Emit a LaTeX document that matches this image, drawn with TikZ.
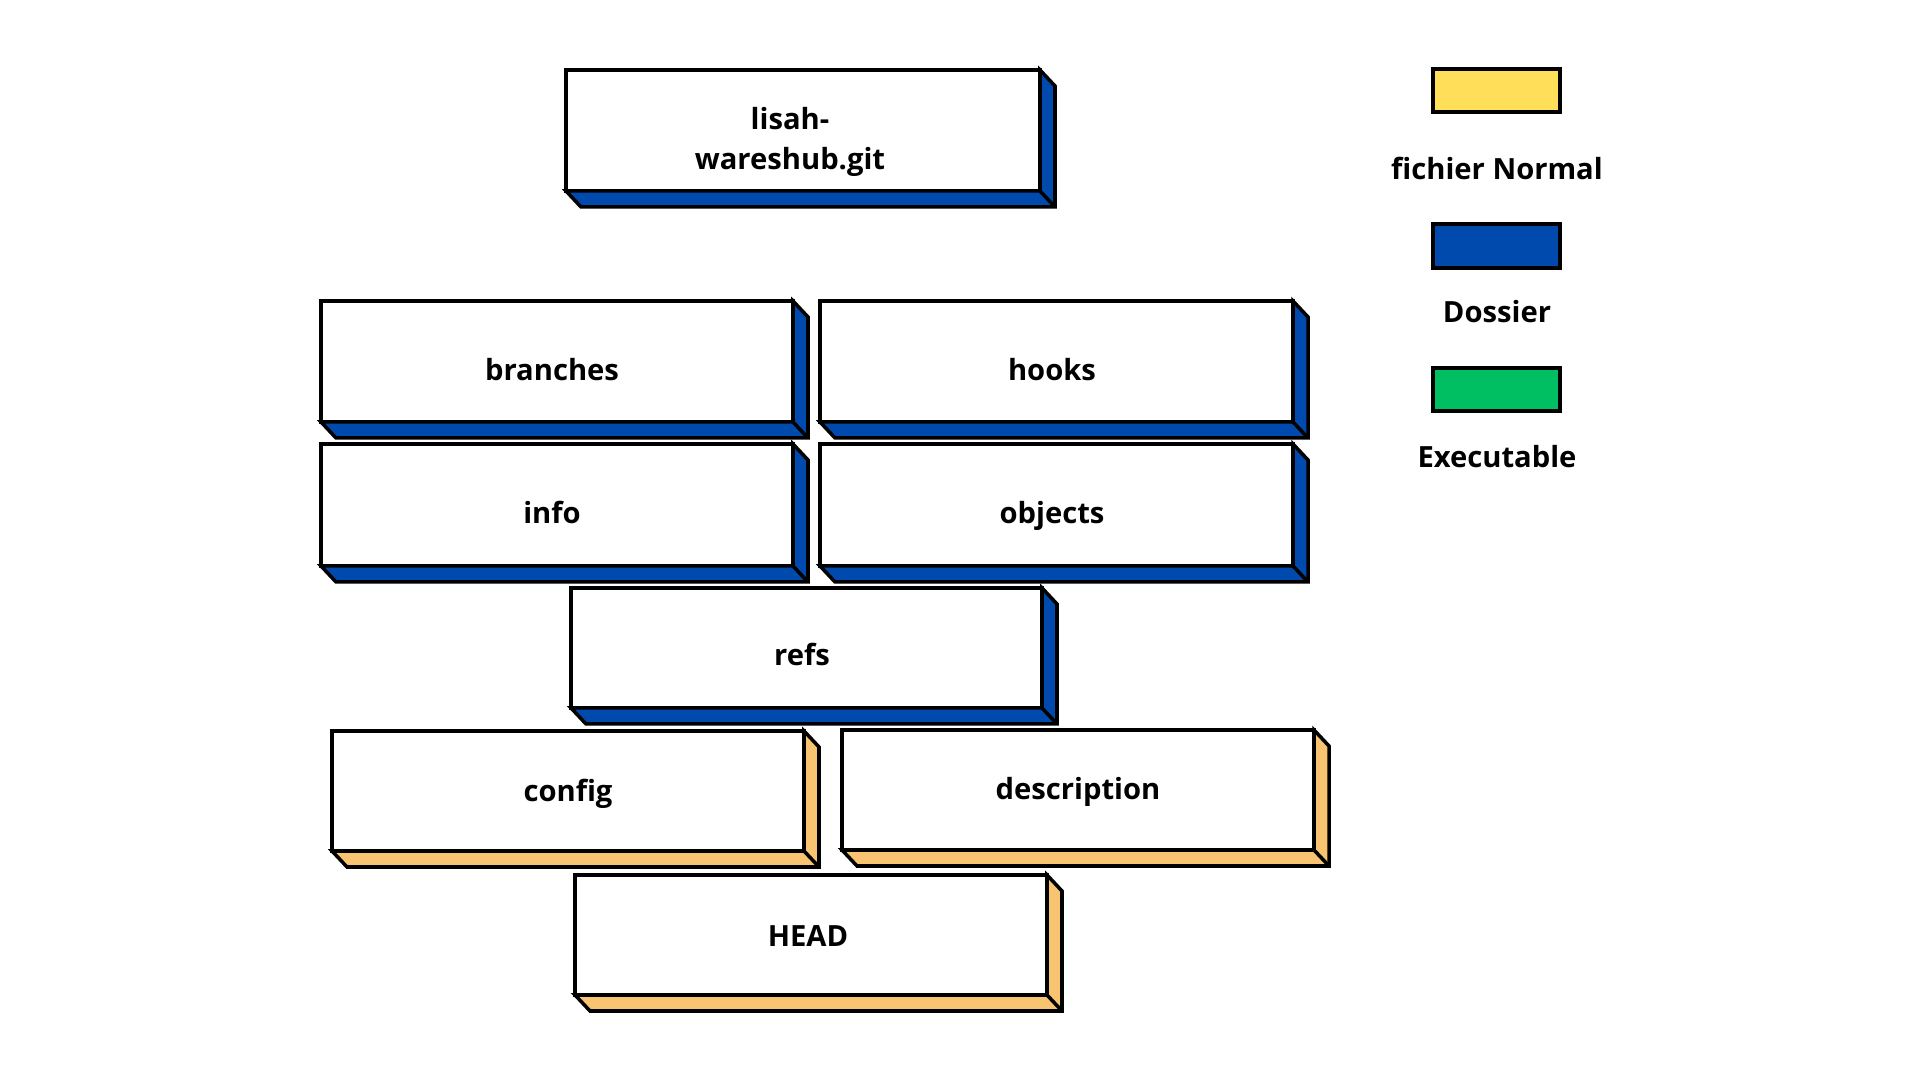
\documentclass[tikz,border=0pt]{standalone}
\usepackage{fontspec}
\setmainfont{Open Sans}
\usetikzlibrary{fit}
\definecolor{dossier}{HTML}{004AAD}
\definecolor{normal}{HTML}{FFDE59}
\definecolor{exec}{HTML}{00BF63}
\definecolor{side}{HTML}{F8C471}
\tikzset{
  face/.style={draw=black, line width=1pt, fill=white, line join=miter, inner sep=0pt, outer sep=0pt},
  lbl/.style={font=\fontsize{8.3}{11.3}\selectfont\bfseries, align=center, inner sep=0pt, anchor=base},
  legendbox/.style={draw=black, line width=1pt, inner sep=0pt, outer sep=0pt},
}
% name, L, T, R, B, side colour
\newcommand\depthbox[6]{%
  \node[face, fit={(#2,#3) (#4,#5)}] (#1) {};
  \draw[face, fill=#6] (#1.south west) -- ++(15,16) -- ([shift={(15,16)}]#1.south east)
     -- ([shift={(15,16)}]#1.north east) -- (#1.north east) -- (#1.south east) -- cycle;
  \draw[face] (#1.south east) -- ++(15,16);
}
\begin{document}
\begin{tikzpicture}[x=0.01cm, y=-0.01cm]
\useasboundingbox[fill=white] (0,0) rectangle (1920,1080);

\depthbox{lisah}{566}{70}{1040}{191}{dossier}
\node[lbl, anchor=center] (lisahT) at (790,142) {lisah-\\wareshub.git};

\depthbox{branches}{321}{301}{793}{422}{dossier}
\node[lbl] (branchesT) at (552,381) {branches};
\depthbox{hooks}{820}{301}{1293}{422}{dossier}
\node[lbl] (hooksT) at (1052,381) {hooks};

\depthbox{info}{321}{444}{793}{566}{dossier}
\node[lbl] (infoT) at (552,524) {info};
\depthbox{objects}{820}{444}{1293}{566}{dossier}
\node[lbl] (objectsT) at (1052,524) {objects};

\depthbox{refs}{571}{588}{1042}{708}{dossier}
\node[lbl] (refsT) at (802,666) {refs};

\depthbox{config}{332}{731}{804}{851}{side}
\node[lbl] (configT) at (568,802) {config};
\depthbox{description}{842}{730}{1314}{850}{side}
\node[lbl] (descriptionT) at (1078,800) {description};

\depthbox{head}{575}{875}{1047}{995}{side}
\node[lbl] (headT) at (808,947) {HEAD};

% legend
\node[legendbox, fill=normal, fit={(1433,69) (1560,112)}] (lnormal) {};
\node[lbl] (lnormalT) at (1497,180) {fichier Normal};
\node[legendbox, fill=dossier, fit={(1433,224) (1560,268)}] (ldossier) {};
\node[lbl] (ldossierT) at (1497,323) {Dossier};
\node[legendbox, fill=exec, fit={(1433,368) (1560,411)}] (lexec) {};
\node[lbl] (lexecT) at (1497,468) {Executable};
\end{tikzpicture}
\end{document}
